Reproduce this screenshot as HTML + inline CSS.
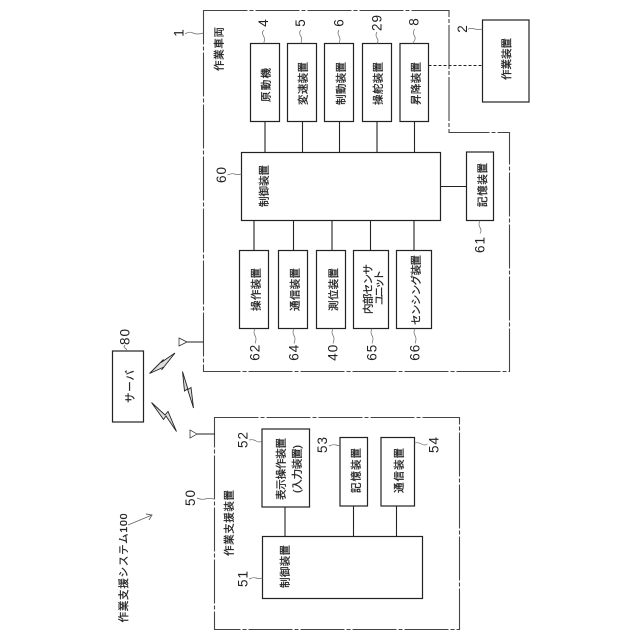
<!DOCTYPE html>
<html><head><meta charset="utf-8"><style>
html,body{margin:0;padding:0;background:#fff}
svg{display:block}
text{font-family:"Liberation Sans","Noto Sans CJK JP",sans-serif;fill:#222;text-anchor:middle;dominant-baseline:central}
.t text{font-size:10.500px;stroke:#222;stroke-width:.25}
.n text{font-size:13.500px}
.b{fill:#fff;stroke:#222;stroke-width:1.2}
.l{fill:none;stroke:#222;stroke-width:1.1}
.o{fill:none;stroke:#444;stroke-width:1.1;stroke-dasharray:44 2 4 2}
.s{fill:none;stroke:#666;stroke-width:.7}
.z{fill:#ddd;stroke:#222;stroke-width:.9}
</style></head><body>
<svg xmlns="http://www.w3.org/2000/svg" width="640" height="640" viewBox="0 0 640 640">
<rect width="640" height="640" fill="#fff"/>
<path class="o" d="M203.5 10.5H449V132.5H509.5V371.5H203.5Z"/>
<path class="o" d="M214.5 417.5H459.5V629.5H214.5Z"/>

<path class="l" d="M265 121.5V152.5M302.5 121.5V152.5M339.5 121.5V152.5M377 121.5V152.5M414.5 121.5V152.5M440.5 186.5H466.5M254 220.5V250.5M293.5 220.5V250.5M332 220.5V250.5M370.5 220.5V250.5M414 220.5V250.5M285 507V536.5M353.5 506V536.5M396.5 506V536.5"/>
<path class="l" d="M428.5 65.5H482.5" stroke-dasharray="3 2"/>
<path class="l" d="M203.5 342H187M215 434H197"/>
<path class="l" d="M187 342L179 338V346Z M197 434L190 430V438Z" style="stroke-width:.7"/>

<rect class="b" x="250.5" y="43.5" width="29" height="78"/>
<rect class="b" x="287.5" y="43.5" width="29" height="78"/>
<rect class="b" x="324.5" y="43.5" width="29" height="78"/>
<rect class="b" x="362.5" y="43.5" width="29" height="78"/>
<rect class="b" x="400" y="43.5" width="28.5" height="78"/>
<rect class="b" x="482.5" y="20" width="46.5" height="82"/>
<rect class="b" x="241.5" y="152.5" width="199" height="68"/>
<rect class="b" x="466.5" y="152" width="27" height="68.5"/>
<rect class="b" x="239.5" y="250.5" width="29" height="78"/>
<rect class="b" x="278.5" y="250.5" width="29" height="78"/>
<rect class="b" x="316.5" y="250.5" width="29" height="78"/>
<rect class="b" x="353.5" y="250.5" width="35" height="78"/>
<rect class="b" x="396.5" y="250.5" width="35" height="78"/>
<rect class="b" x="112.5" y="351" width="31" height="71"/>
<rect class="b" x="262" y="429" width="47.5" height="78"/>
<rect class="b" x="340" y="437.5" width="27.5" height="68.5"/>
<rect class="b" x="381" y="437.5" width="33.5" height="68.5"/>
<rect class="b" x="262.5" y="536.5" width="160" height="62"/>

<!-- lightning -->
<path class="z" d="M149.5 373.5L164 367L161.500 370L175 353L161 362.500L163.500 359.500Z"/>
<path class="z" d="M182.5 371.5L184.500 391L187.500 389L193.5 408L191 387.500L188 389.500Z"/>
<path class="z" d="M151.5 402.5L163.500 419.500L166 416L176.5 431.5L168 411.500L165 415Z"/>

<!-- leaders -->
<path class="s" d="M185 34q4 -3 8 -1t10.500 0M263.500 30q-2 3 0 6t0 7.500M300.700 30q-2 3 0 6t0 7.500M339 30q-2 3 0 6t0 7.500M377 32q-2 3 0 6t0 5.500M414.500 29q-2 4 0 7t-2 7.500M468 29q4 -1 7 0t7.500 0M227.500 175q4 -2 7 -1t7 0M480 220.500q-2 4 0 7t0 6M255 328.500q-2 4 0 7t0 8M294 328.500q-2 4 0 7t0 8M333 328.500q-2 4 0 7t0 8M372 328.500q-2 4 0 7t0 8M415 328.500q-2 4 0 7t0 8M125 345q-2 2 0 3t1.500 3M249 440q4 -1 7 1t6 0M329 446q4 -2 7 -1t4 0M414.500 443q4 -1 7 1t6 0M197 498q5 2 8 1t9.500 0M249 579q4 -2 7 -1t6.500 0"/>
<path class="s" d="M128 525L152 515M146 514L152 515L149 520" style="stroke-width:.9"/>

<!-- numbers -->
<g class="n">
<text transform="translate(263.500,23) rotate(-90)">4</text>
<text transform="translate(300.700,23) rotate(-90)">5</text>
<text transform="translate(339,23) rotate(-90)">6</text>
<text transform="translate(377,23) rotate(-90)" textLength="16">29</text>
<text transform="translate(414,22) rotate(-90)">8</text>
<text transform="translate(179,33) rotate(-90)">1</text>
<text transform="translate(462.700,29) rotate(-90)">2</text>
<text transform="translate(221.700,175) rotate(-90)" textLength="16">60</text>
<text transform="translate(480,245) rotate(-90)" textLength="16">61</text>
<text transform="translate(255,352.700) rotate(-90)" textLength="16">62</text>
<text transform="translate(294,352.700) rotate(-90)" textLength="16">64</text>
<text transform="translate(333,352.700) rotate(-90)" textLength="16">40</text>
<text transform="translate(372,352.700) rotate(-90)" textLength="16">65</text>
<text transform="translate(415,352.700) rotate(-90)" textLength="16">66</text>
<text transform="translate(125,337) rotate(-90)" textLength="16">80</text>
<text transform="translate(243,440) rotate(-90)" textLength="16">52</text>
<text transform="translate(322.700,445) rotate(-90)" textLength="16">53</text>
<text transform="translate(434,445) rotate(-90)" textLength="16">54</text>
<text transform="translate(190.700,498) rotate(-90)" textLength="16">50</text>
<text transform="translate(243,579) rotate(-90)" textLength="16">51</text>
</g>

<!-- labels -->
<g class="t" transform="translate(1.500,0)">
<text transform="translate(218,49) rotate(-90)" textLength="44">作業車両</text>
<text transform="translate(265,85) rotate(-90)" textLength="34">原動機</text>
<text transform="translate(302,83.500) rotate(-90)" textLength="43">変速装置</text>
<text transform="translate(340,83.500) rotate(-90)" textLength="43">制動装置</text>
<text transform="translate(377,83.500) rotate(-90)" textLength="43">操舵装置</text>
<text transform="translate(415,83.500) rotate(-90)" textLength="43">昇降装置</text>
<text transform="translate(505.700,59) rotate(-90)" textLength="42">作業装置</text>
<text transform="translate(263,186) rotate(-90)" textLength="42">制御装置</text>
<text transform="translate(481.500,185) rotate(-90)" textLength="44">記憶装置</text>
<text transform="translate(255,289.500) rotate(-90)" textLength="43">操作装置</text>
<text transform="translate(294,289.500) rotate(-90)" textLength="43">通信装置</text>
<text transform="translate(332.500,289.500) rotate(-90)" textLength="43">測位装置</text>
<text transform="translate(367,289) rotate(-90)" textLength="50">内部センサ</text>
<text transform="translate(378,287.500) rotate(-90)" textLength="35">ユニット</text>
<text transform="translate(415,290) rotate(-90)" textLength="70">センシング装置</text>
<text transform="translate(129,386.500) rotate(-90)" textLength="33">サーバ</text>
<text transform="translate(228,523) rotate(-90)" textLength="66">作業支援装置</text>
<text transform="translate(280,469) rotate(-90)" textLength="62">表示操作装置</text>
<text transform="translate(296,469) rotate(-90)" textLength="48">(入力装置)</text>
<text transform="translate(355,470.500) rotate(-90)" textLength="45">記憶装置</text>
<text transform="translate(398,470.500) rotate(-90)" textLength="45">通信装置</text>
<text transform="translate(284,566.500) rotate(-90)" textLength="43">制御装置</text>
<text transform="translate(122.700,568) rotate(-90)" textLength="109">作業支援システム100</text>
</g>
</svg>
</body></html>
